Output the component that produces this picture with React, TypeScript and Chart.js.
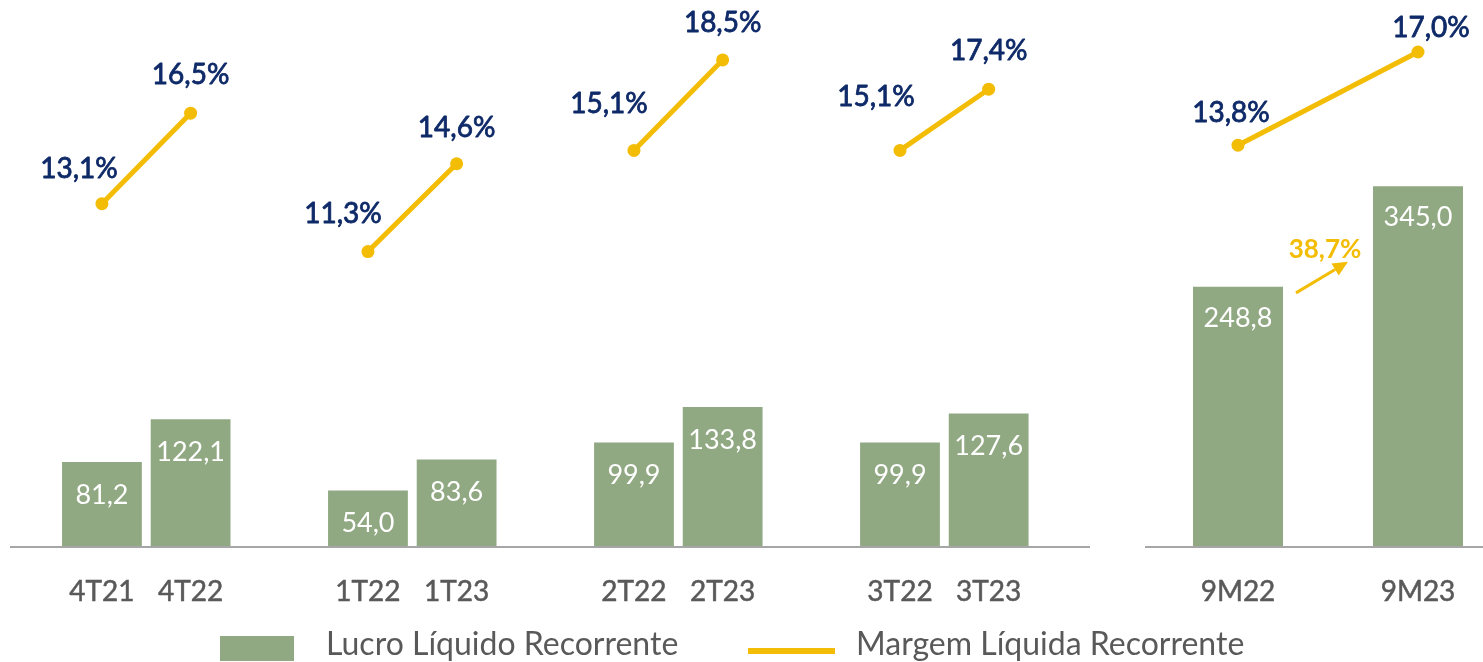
import React, { useEffect, useRef } from 'react';
import { Chart, registerables } from 'chart.js';

Chart.register(...registerables);

// ---------- data ----------
const quarterLabels = ['4T21', '4T22', '', '1T22', '1T23', '', '2T22', '2T23', '', '3T22', '3T23'];
const quarterProfit = [81.2, 122.1, null, 54.0, 83.6, null, 99.9, 133.8, null, 99.9, 127.6];
const quarterMargin = [13.1, 16.5, null, 11.3, 14.6, null, 15.1, 18.5, null, 15.1, 17.4];
const ytdLabels = ['9M22', '9M23'];
const ytdProfit = [248.8, 345.0];
const ytdMargin = [13.8, 17.0];
const seriesNames = ['Lucro Líquido Recorrente', 'Margem Líquida Recorrente'];

// ---------- style ----------
const FONT = 'Lato, "Noto Sans", sans-serif';
const BAR_COLOR = '#91A983';
const LINE_COLOR = '#F3BC05';
const NAVY = '#0F2A68';
const GREY_TEXT = '#595959';
const AXIS_COLOR = '#A6A6A6';
// label offsets (relative to each point) for the margin labels
const quarterLabelOffsets = [[-23, -35], [0, -38], null, [-25, -38], [0, -36], null, [-25, -46], [0, -37], null, [-24, -53], [0, -38]];
const ytdLabelOffsets = [[-7, -32], [13, -24]];

const fmt = (v: number) => v.toFixed(1).replace('.', ',');

const labelsPlugin = {
  id: 'valueLabels',
  afterDatasetsDraw(chart: any, _args: any, opts: any) {
    const ctx = chart.ctx;
    ctx.save();
    // axis line
    ctx.strokeStyle = AXIS_COLOR;
    ctx.lineWidth = 2;
    ctx.beginPath();
    ctx.moveTo(opts.axisFrom, chart.chartArea.bottom);
    ctx.lineTo(opts.axisTo, chart.chartArea.bottom);
    ctx.stroke();

    // bar value labels
    const barData = chart.data.datasets[0].data;
    const barMeta = chart.getDatasetMeta(0);
    ctx.font = `${opts.barFont}px ${FONT}`;
    ctx.fillStyle = '#FFFFFF';
    ctx.textAlign = 'center';
    ctx.textBaseline = 'middle';
    barMeta.data.forEach((el: any, i: number) => {
      const v = barData[i];
      if (v == null) return;
      ctx.fillText(fmt(v), el.x, el.y + opts.barDy);
    });

    // margin labels
    const lineData = chart.data.datasets[1].data;
    const lineMeta = chart.getDatasetMeta(1);
    ctx.font = `${opts.pctFont}px ${FONT}`;
    ctx.fillStyle = NAVY;
    ctx.strokeStyle = NAVY;
    ctx.lineWidth = 0.8;
    ctx.lineJoin = 'round';
    lineMeta.data.forEach((el: any, i: number) => {
      const v = lineData[i];
      if (v == null) return;
      const off = opts.offsets[i] || [0, -36];
      const txt = fmt(v) + '%';
      ctx.fillText(txt, el.x + off[0], el.y + off[1]);
      ctx.strokeText(txt, el.x + off[0], el.y + off[1]);
    });
    ctx.restore();
  },
};

const growthPlugin = {
  id: 'growthArrow',
  afterDatasetsDraw(chart: any, _args: any, opts: any) {
    if (!opts.enabled) return;
    const meta = chart.getDatasetMeta(0);
    const data = chart.data.datasets[0].data;
    const a = meta.data[0];
    const b = meta.data[1];
    const growth = (data[1] / data[0] - 1) * 100;
    const ctx = chart.ctx;
    const x0 = a.x + a.width / 2 + 13;
    const y0 = a.y + 6;
    const x1 = b.x - b.width / 2 - 25;
    const y1 = a.y - 25;
    ctx.save();
    ctx.strokeStyle = LINE_COLOR;
    ctx.fillStyle = LINE_COLOR;
    ctx.lineWidth = 3;
    const ang = Math.atan2(y1 - y0, x1 - x0);
    const headLen = 15;
    const hx = x1 - headLen * Math.cos(ang);
    const hy = y1 - headLen * Math.sin(ang);
    ctx.beginPath();
    ctx.moveTo(x0, y0);
    ctx.lineTo(hx, hy);
    ctx.stroke();
    ctx.beginPath();
    ctx.moveTo(x1, y1);
    ctx.lineTo(hx + 7 * Math.sin(ang), hy - 7 * Math.cos(ang));
    ctx.lineTo(hx - 7 * Math.sin(ang), hy + 7 * Math.cos(ang));
    ctx.closePath();
    ctx.fill();
    ctx.font = `bold 26px ${FONT}`;
    ctx.textAlign = 'center';
    ctx.textBaseline = 'middle';
    ctx.fillText(fmt(growth) + '%', (x0 + x1) / 2 + 3, a.y - 37);
    ctx.restore();
  },
};

function makeConfig(
  labels: string[],
  bars: (number | null)[],
  margins: (number | null)[],
  barPct: number,
  padding: any,
  marginRange: [number, number],
  pluginOpts: any,
  growth: boolean,
): any {
  return {
    type: 'bar',
    data: {
      labels,
      datasets: [
        {
          type: 'bar',
          label: seriesNames[0],
          data: bars,
          backgroundColor: BAR_COLOR,
          borderWidth: 0,
          barPercentage: barPct,
          categoryPercentage: 1,
          yAxisID: 'y',
          order: 2,
        },
        {
          type: 'line',
          label: seriesNames[1],
          data: margins,
          borderColor: LINE_COLOR,
          backgroundColor: LINE_COLOR,
          borderWidth: 5,
          pointRadius: 6.5,
          pointBackgroundColor: LINE_COLOR,
          pointBorderWidth: 0,
          spanGaps: false,
          yAxisID: 'y1',
          order: 1,
          clip: false,
        },
      ],
    },
    options: {
      responsive: false,
      animation: false,
      events: [],
      layout: { padding },
      plugins: {
        legend: { display: false },
        tooltip: { enabled: false },
        valueLabels: pluginOpts,
        growthArrow: { enabled: growth },
      },
      scales: {
        x: {
          type: 'category',
          offset: true,
          grid: { display: false, drawTicks: false },
          border: { display: false },
          ticks: {
            color: GREY_TEXT,
            textStrokeColor: GREY_TEXT,
            textStrokeWidth: 0.5,
            font: { family: FONT, size: 28 },
            padding: 28,
            autoSkip: false,
            maxRotation: 0,
          },
          afterFit(scale: any) {
            scale.height = 60;
          },
        },
        y: { display: false, min: 0, max: 504 },
        y1: { display: false, min: marginRange[0], max: marginRange[1] },
      },
    },
    plugins: [labelsPlugin, growthPlugin],
  };
}

export default function App() {
  const leftRef = useRef<HTMLCanvasElement>(null);
  const rightRef = useRef<HTMLCanvasElement>(null);

  useEffect(() => {
    document.body.style.margin = '0';
    const left = new Chart(
      leftRef.current!,
      makeConfig(
        quarterLabels,
        quarterProfit,
        quarterMargin,
        0.9,
        { left: 57.6, right: 77, top: 20, bottom: 55 },
        [0.2, 20],
        { axisFrom: 10, axisTo: 1090, barFont: 27, barDy: 33, pctFont: 28, offsets: quarterLabelOffsets },
        false,
      ),
    );
    const right = new Chart(
      rightRef.current!,
      makeConfig(
        ytdLabels,
        ytdProfit,
        ytdMargin,
        0.5,
        { left: 38, right: 22, top: 20, bottom: 55 },
        [0, 18.1],
        { axisFrom: 35, axisTo: 420, barFont: 27, barDy: 31, pctFont: 28, offsets: ytdLabelOffsets },
        true,
      ),
    );
    return () => {
      left.destroy();
      right.destroy();
    };
  }, []);

  const legendText: React.CSSProperties = {
    position: 'absolute',
    top: 623,
    fontFamily: FONT,
    fontSize: 32,
    color: GREY_TEXT,
    lineHeight: '40px',
    whiteSpace: 'nowrap',
  };

  return (
    <div style={{ position: 'relative', width: 1483, height: 662, overflow: 'hidden', background: '#fff' }}>
      <canvas ref={leftRef} width={1110} height={662} style={{ position: 'absolute', left: 0, top: 0 }} />
      <canvas ref={rightRef} width={420} height={662} style={{ position: 'absolute', left: 1110, top: 0 }} />
      <div style={{ position: 'absolute', left: 220, top: 636, width: 74, height: 25, background: BAR_COLOR }} />
      <div style={{ ...legendText, left: 326 }}>{seriesNames[0]}</div>
      <div style={{ position: 'absolute', left: 748, top: 648, width: 87, height: 6, background: LINE_COLOR }} />
      <div style={{ ...legendText, left: 856 }}>{seriesNames[1]}</div>
    </div>
  );
}
